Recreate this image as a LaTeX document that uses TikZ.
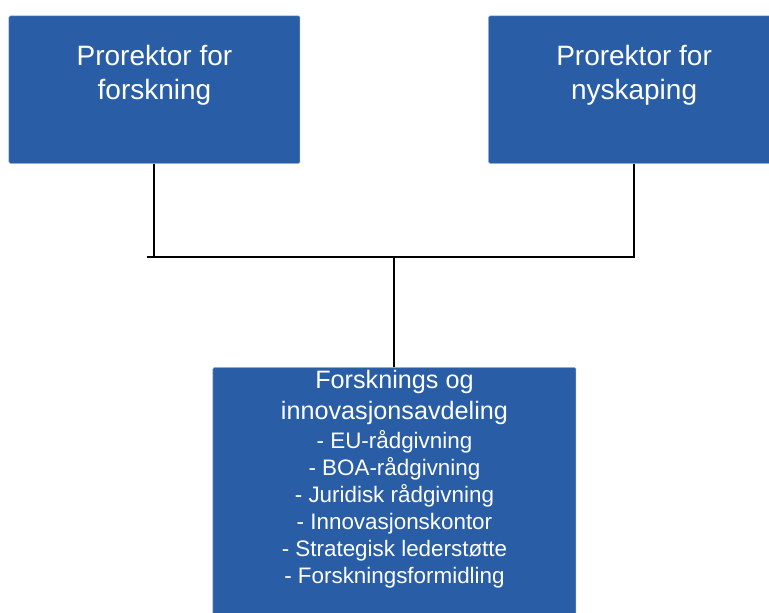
\documentclass[tikz,border=0pt]{standalone}
\usepackage{fontspec}
\setmainfont{Liberation Sans}
\usetikzlibrary{positioning}
\definecolor{orgblue}{RGB}{41,94,166}
\definecolor{orgedge}{RGB}{125,160,210}

\begin{document}
\begin{tikzpicture}[x=0.75pt, y=-0.75pt,
    unit/.style={rectangle, fill=orgblue, draw=orgedge, line width=0.4pt, rounded corners=1pt, inner sep=0pt, anchor=north west},
    unittext/.style={text=white, align=center, inner sep=0pt, anchor=north},
    link/.style={draw=black, line width=1.5pt}]
  \useasboundingbox (0,0) rectangle (769,613);

  % the two prorektors
  \node[unit, minimum width=218.25pt, minimum height=110.5pt] (forsk) at (8.7,15.7) {};
  \node[unit, minimum width=218.25pt, minimum height=110.5pt] (nysk) at (488.3,15.7) {};
  \node[unittext, font=\fontsize{21}{25.5}\selectfont, below=22pt of forsk.north] (forsktxt) {Prorektor for\\forskning};
  \node[unittext, font=\fontsize{21}{25.5}\selectfont, below=22pt of nysk.north] (nysktxt) {Prorektor for\\nyskaping};

  % the department
  \node[unit, minimum width=272.25pt, minimum height=190pt] (avd) at (212.7,367.3) {};
  \node[unittext, font=\fontsize{18.9}{23.25}\selectfont, below=2pt of avd.north] (avdhead) {Forsknings og\\innovasjonsavdeling};
  \node[unittext, font=\fontsize{16.8}{20.25}\selectfont, below=4pt of avdhead] (avdlist)
    {- EU-rådgivning\\- BOA-rådgivning\\- Juridisk rådgivning\\- Innovasjonskontor\\- Strategisk lederstøtte\\- Forskningsformidling};

  \coordinate (split) at (146.7,257);
  \draw[link] (forsk.south) -- (forsk.south |- split);
  \draw[link] (split) -- (nysk.south |- split) -- (nysk.south);
  \draw[link] (avd.north) -- (avd.north |- split);

\end{tikzpicture}
\end{document}
